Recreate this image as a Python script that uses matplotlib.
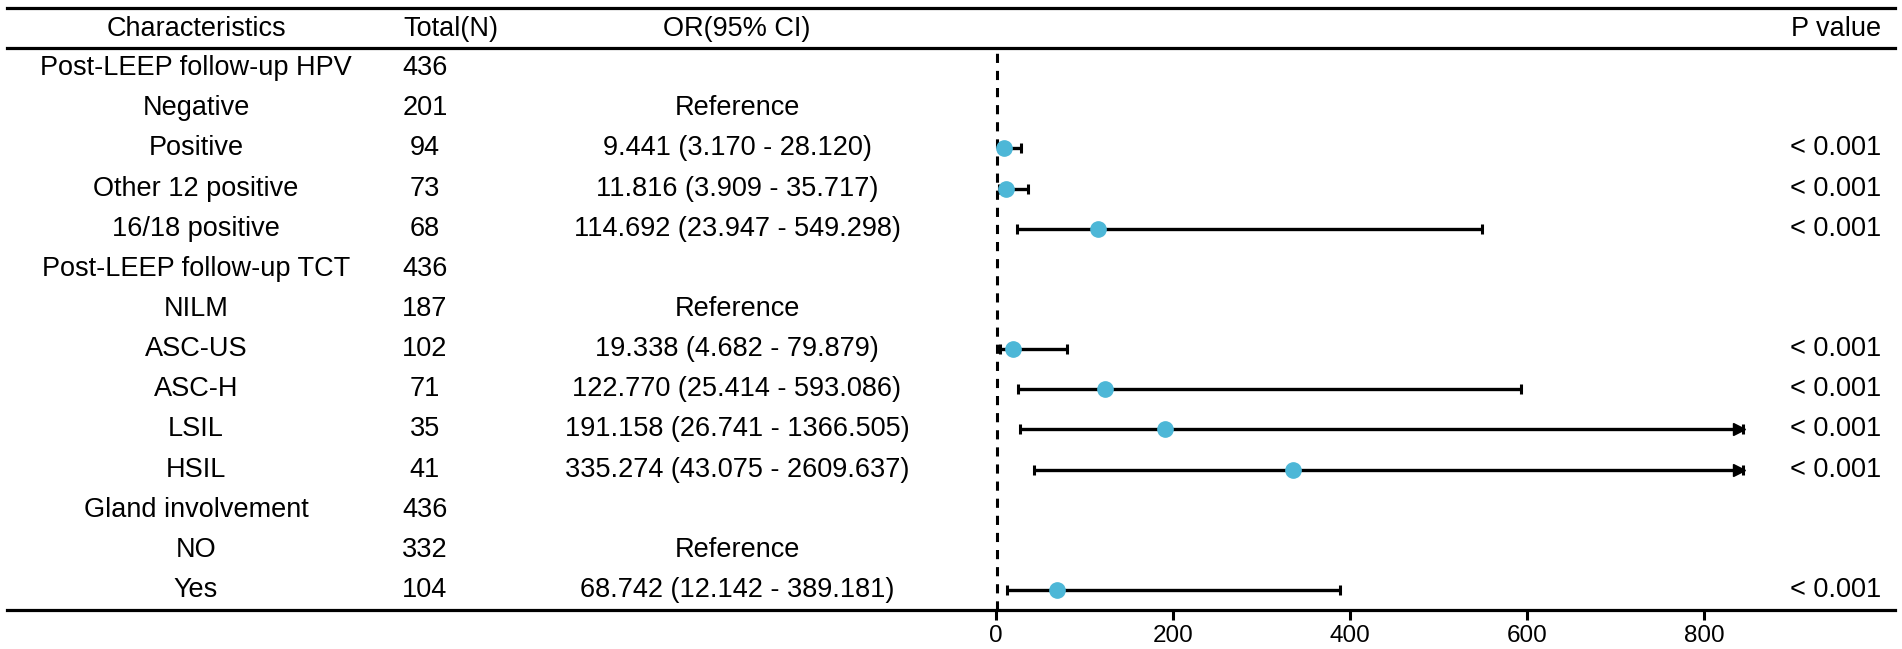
import numpy as np
import matplotlib
matplotlib.use('Agg')
import matplotlib.pyplot as plt
from matplotlib.transforms import blended_transform_factory
from matplotlib.lines import Line2D

plt.rcParams['font.family'] = ['Liberation Sans', 'DejaVu Sans']

# table data
labels = ['Post-LEEP follow-up HPV', 'Negative', 'Positive', 'Other 12 positive',
          '16/18 positive', 'Post-LEEP follow-up TCT', 'NILM', 'ASC-US', 'ASC-H',
          'LSIL', 'HSIL', 'Gland involvement', 'NO', 'Yes']
totals = ['436', '201', '94', '73', '68', '436', '187', '102', '71', '35', '41',
          '436', '332', '104']
or_text = ['', 'Reference', '9.441 (3.170 - 28.120)', '11.816 (3.909 - 35.717)',
           '114.692 (23.947 - 549.298)', '', 'Reference', '19.338 (4.682 - 79.879)',
           '122.770 (25.414 - 593.086)', '191.158 (26.741 - 1366.505)',
           '335.274 (43.075 - 2609.637)', '', 'Reference', '68.742 (12.142 - 389.181)']
or_est = [np.nan, np.nan, 9.441, 11.816, 114.692, np.nan, np.nan, 19.338, 122.770,
          191.158, 335.274, np.nan, np.nan, 68.742]
ci_low = [np.nan, np.nan, 3.170, 3.909, 23.947, np.nan, np.nan, 4.682, 25.414,
          26.741, 43.075, np.nan, np.nan, 12.142]
ci_high = [np.nan, np.nan, 28.120, 35.717, 549.298, np.nan, np.nan, 79.879, 593.086,
           1366.505, 2609.637, np.nan, np.nan, 389.181]
p_text = ['', '', '< 0.001', '< 0.001', '< 0.001', '', '', '< 0.001', '< 0.001',
          '< 0.001', '< 0.001', '', '', '< 0.001']
headers = ['Characteristics', 'Total(N)', 'OR(95% CI)', '', 'P value']
xticks = [0, 200, 400, 600, 800]

W, H = 1902, 649
XMIN, XMAX = -20, 850
ARROW_END = 844
px_per_unit = 0.885
zero_px = 996
left_px = zero_px + XMIN * px_per_unit
right_px = zero_px + XMAX * px_per_unit
top_px, bottom_px = 48, 610

fig = plt.figure(figsize=(W / 100, H / 100), dpi=100)
ax = fig.add_axes([left_px / W, 1 - bottom_px / H,
                   (right_px - left_px) / W, (bottom_px - top_px) / H])
ax.set_xlim(XMIN, XMAX)
n = len(labels)
ax.set_ylim(n - 0.5, -0.5)
for s in ax.spines.values():
    s.set_visible(False)
ax.set_yticks([])
ax.set_xticks(xticks)
ax.tick_params(axis='x', direction='out', length=7.5, width=2.2, labelsize=17.5, pad=3)
ax.patch.set_alpha(0)

# reference line
ax.axvline(1, color='black', lw=2.2, ls=(0, (3, 2.6)), zorder=1)

ys = np.arange(n)
dot_color = '#4db7d7'
for y, est, lo, hi in zip(ys, or_est, ci_low, ci_high):
    if np.isnan(est):
        continue
    hi_c = min(hi, ARROW_END)
    ax.errorbar(est, y, xerr=[[est - lo], [hi_c - est]], fmt='o', color='black',
                ecolor='black', elinewidth=2.4, capsize=3.8, capthick=2.2,
                ms=11, mfc=dot_color, mec=dot_color, zorder=3)
    if hi > ARROW_END:
        ax.plot(ARROW_END - 4, y, marker='>', ms=8, color='black', zorder=3)

# table text
trans = blended_transform_factory(fig.transFigure, ax.transData)
col_x = [196 / W, 451 / W, 737 / W, None, 1836 / W]
num_x = 425 / W
fs = 19.5
header_y = (29 - 68) / ((bottom_px - top_px) / n)
for hx, ht in zip(col_x, headers):
    if hx is not None and ht:
        ax.text(hx, header_y, ht, transform=trans, ha='center', va='center',
                fontsize=fs, clip_on=False)
for y, lab, tot, ot, pt in zip(ys, labels, totals, or_text, p_text):
    ax.text(col_x[0], y, lab, transform=trans, ha='center', va='center', fontsize=fs)
    ax.text(num_x, y, tot, transform=trans, ha='center', va='center', fontsize=fs)
    if ot:
        ax.text(col_x[2], y, ot, transform=trans, ha='center', va='center', fontsize=fs)
    if pt:
        ax.text(col_x[4], y, pt, transform=trans, ha='center', va='center', fontsize=fs)

# table rules
row_h = (bottom_px - top_px) / n
for ypx in [8, top_px, bottom_px]:
    yd = (ypx - 68) / row_h
    fig.add_artist(Line2D([7 / W, 1895 / W], [yd, yd], transform=trans,
                          color='black', lw=2.3))

fig.savefig('out.png', dpi=100)
